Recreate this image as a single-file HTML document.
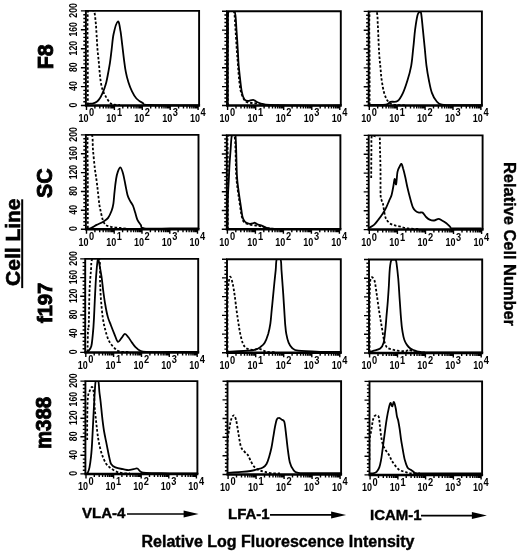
<!DOCTYPE html><html><head><meta charset="utf-8"><title>Flow cytometry histograms</title><style>html,body{margin:0;padding:0;background:#fff;width:520px;height:554px;overflow:hidden}svg{display:block;filter:grayscale(1)}</style></head><body>
<svg width="520" height="554" viewBox="0 0 520 554" style="font-family:'Liberation Sans',sans-serif;font-weight:bold">
<rect width="520" height="554" fill="#fff"/>
<clipPath id="c00"><rect x="85.9" y="10.9" width="113.2" height="95.6"/></clipPath>
<g clip-path="url(#c00)" fill="none" stroke="#000" stroke-linejoin="round" stroke-width="1.8">
<path d="M87.8 105.0 C87.8 97.5 87.8 75.6 87.8 60.0 C87.8 44.4 87.0 19.6 88.0 11.5 C89.0 3.4 92.6 9.7 93.9 11.5 C95.2 13.3 95.2 18.5 95.7 22.4 C96.2 26.3 96.3 30.5 96.6 35.0 C96.9 39.5 97.1 45.0 97.5 49.5 C97.9 54.0 98.4 58.0 98.8 62.2 C99.2 66.4 99.5 71.2 99.9 74.8 C100.3 78.4 100.6 81.1 101.1 83.8 C101.6 86.5 102.2 88.9 103.0 91.0 C103.8 93.1 104.7 94.6 105.7 96.4 C106.8 98.2 108.1 100.6 109.3 101.9 C110.5 103.2 111.1 104.0 112.9 104.5 C114.7 105.0 118.8 104.9 120.0 105.0" stroke-dasharray="2.5 1.9"/>
<path d="M86.5 104.0 C87.1 103.9 88.9 103.7 90.0 103.6 C91.1 103.5 92.0 103.6 93.2 103.3 C94.4 103.0 95.9 102.4 97.1 101.5 C98.3 100.6 99.3 99.1 100.2 97.7 C101.1 96.3 101.8 94.6 102.5 93.1 C103.2 91.6 103.8 90.3 104.4 88.5 C105.0 86.7 105.8 84.4 106.3 82.3 C106.8 80.2 107.0 79.2 107.6 76.0 C108.2 72.8 109.2 67.6 109.9 63.1 C110.6 58.6 111.1 53.8 111.7 48.9 C112.3 44.0 112.6 38.6 113.6 34.0 C114.6 29.4 116.8 22.0 117.9 21.5 C119.1 21.0 119.8 27.2 120.5 31.2 C121.2 35.2 121.7 40.7 122.3 45.4 C122.9 50.1 123.4 55.2 124.0 59.6 C124.6 64.0 125.0 68.1 125.8 71.9 C126.5 75.7 127.5 79.3 128.5 82.6 C129.5 85.8 130.7 88.8 132.0 91.4 C133.3 94.1 134.6 96.6 136.4 98.5 C138.2 100.4 140.3 101.8 142.6 102.9 C144.9 104.0 140.6 104.6 150.0 105.0 C159.4 105.4 190.7 105.4 198.8 105.5"/>
</g>
<path d="M85.9 105.5V10.9H199.1V105.5" fill="none" stroke="#000" stroke-width="1.9"/>
<path d="M84.9 105.5H200.1" stroke="#000" stroke-width="2.5"/>
<path d="M80.9 105.5H85.9 M83.3 101.7H85.9 M83.3 97.9H85.9 M83.3 94.1H85.9 M83.3 90.4H85.9 M80.9 86.6H85.9 M83.3 82.8H85.9 M83.3 79.0H85.9 M83.3 75.2H85.9 M83.3 71.4H85.9 M80.9 67.7H85.9 M83.3 63.9H85.9 M83.3 60.1H85.9 M83.3 56.3H85.9 M83.3 52.5H85.9 M80.9 48.7H85.9 M83.3 45.0H85.9 M83.3 41.2H85.9 M83.3 37.4H85.9 M83.3 33.6H85.9 M80.9 29.8H85.9 M83.3 26.0H85.9 M83.3 22.3H85.9 M83.3 18.5H85.9 M83.3 14.7H85.9 M80.9 10.9H85.9 M94.9 105.5V108.5 M99.8 105.5V108.5 M103.3 105.5V108.5 M106.0 105.5V108.5 M108.2 105.5V108.5 M110.1 105.5V108.5 M111.7 105.5V108.5 M113.1 105.5V108.5 M122.8 105.5V108.5 M127.7 105.5V108.5 M131.2 105.5V108.5 M133.9 105.5V108.5 M136.1 105.5V108.5 M138.0 105.5V108.5 M139.6 105.5V108.5 M141.0 105.5V108.5 M150.7 105.5V108.5 M155.6 105.5V108.5 M159.1 105.5V108.5 M161.8 105.5V108.5 M164.0 105.5V108.5 M165.9 105.5V108.5 M167.5 105.5V108.5 M168.9 105.5V108.5 M178.6 105.5V108.5 M183.5 105.5V108.5 M187.0 105.5V108.5 M189.7 105.5V108.5 M191.9 105.5V108.5 M193.8 105.5V108.5 M195.4 105.5V108.5 M196.8 105.5V108.5 M86.5 105.5V110.0 M114.4 105.5V110.0 M142.3 105.5V110.0 M170.2 105.5V110.0 M198.1 105.5V110.0" stroke="#000" stroke-width="1.4" fill="none"/>
<text transform="translate(88.5 121.8) scale(0.86 1)" font-size="10.5" text-anchor="end">10</text>
<text transform="translate(89.0 116.4) scale(0.9 1)" font-size="10.3">0</text>
<text transform="translate(116.4 121.8) scale(0.86 1)" font-size="10.5" text-anchor="end">10</text>
<text transform="translate(116.9 116.4) scale(0.9 1)" font-size="10.3">1</text>
<text transform="translate(144.3 121.8) scale(0.86 1)" font-size="10.5" text-anchor="end">10</text>
<text transform="translate(144.8 116.4) scale(0.9 1)" font-size="10.3">2</text>
<text transform="translate(172.2 121.8) scale(0.86 1)" font-size="10.5" text-anchor="end">10</text>
<text transform="translate(172.7 116.4) scale(0.9 1)" font-size="10.3">3</text>
<text transform="translate(200.1 121.8) scale(0.86 1)" font-size="10.5" text-anchor="end">10</text>
<text transform="translate(200.6 116.4) scale(0.9 1)" font-size="10.3">4</text>
<text transform="translate(77.4 105.0) rotate(-90) scale(0.87 1)" font-size="10" text-anchor="middle">0</text>
<text transform="translate(77.4 86.1) rotate(-90) scale(0.87 1)" font-size="10" text-anchor="middle">40</text>
<text transform="translate(77.4 67.2) rotate(-90) scale(0.87 1)" font-size="10" text-anchor="middle">80</text>
<text transform="translate(77.4 48.2) rotate(-90) scale(0.87 1)" font-size="10" text-anchor="middle">120</text>
<text transform="translate(77.4 29.3) rotate(-90) scale(0.87 1)" font-size="10" text-anchor="middle">160</text>
<text transform="translate(77.4 10.4) rotate(-90) scale(0.87 1)" font-size="10" text-anchor="middle">200</text>
<clipPath id="c01"><rect x="227.0" y="11.2" width="113.8" height="95.3"/></clipPath>
<g clip-path="url(#c01)" fill="none" stroke="#000" stroke-linejoin="round" stroke-width="1.8">
<path d="M227.8 105.0 C227.8 94.2 227.7 55.6 227.8 40.0 C227.9 24.4 227.5 16.2 228.5 11.5 C229.5 6.8 232.6 8.4 233.8 11.5 C235.0 14.6 235.0 23.6 235.5 30.0 C236.0 36.4 236.4 44.5 236.8 50.0 C237.2 55.5 237.5 58.5 237.8 63.0 C238.2 67.5 238.4 72.4 238.9 77.1 C239.4 81.8 239.8 87.3 240.8 91.3 C241.9 95.3 243.3 99.0 245.2 101.0 C247.1 103.0 249.7 102.6 252.0 103.0 C254.3 103.4 257.0 103.2 259.3 103.6 C261.6 104.0 262.6 105.2 266.0 105.5 C269.4 105.8 277.7 105.5 280.0 105.5" stroke-dasharray="2.5 1.9"/>
<path d="M227.8 105.5 C227.8 97.9 227.8 72.6 227.8 60.0 C227.8 47.4 227.9 38.1 228.0 30.0 C228.1 21.9 227.4 14.3 228.5 11.2 C229.6 8.1 233.3 8.1 234.6 11.2 C235.9 14.3 236.0 23.5 236.5 30.0 C237.0 36.5 237.5 44.5 237.8 50.0 C238.1 55.5 238.2 58.5 238.5 63.0 C238.8 67.5 239.4 72.4 239.9 77.1 C240.4 81.8 241.0 87.6 241.7 91.3 C242.4 95.0 243.3 97.6 244.3 99.2 C245.3 100.8 246.4 100.9 247.9 101.0 C249.4 101.1 251.7 99.6 253.2 99.8 C254.7 100.0 255.4 101.3 256.7 101.9 C258.0 102.5 258.9 103.1 261.1 103.6 C263.3 104.1 263.5 104.7 270.0 105.0 C276.5 105.3 288.2 105.4 300.0 105.5 C311.8 105.6 334.2 105.5 341.0 105.5"/>
</g>
<path d="M227.0 105.5V11.2H340.8V105.5" fill="none" stroke="#000" stroke-width="1.9"/>
<path d="M226.0 105.5H341.8" stroke="#000" stroke-width="2.5"/>
<path d="M222.0 105.5H227.0 M224.4 101.7H227.0 M224.4 98.0H227.0 M224.4 94.2H227.0 M224.4 90.4H227.0 M222.0 86.6H227.0 M224.4 82.9H227.0 M224.4 79.1H227.0 M224.4 75.3H227.0 M224.4 71.6H227.0 M222.0 67.8H227.0 M224.4 64.0H227.0 M224.4 60.2H227.0 M224.4 56.5H227.0 M224.4 52.7H227.0 M222.0 48.9H227.0 M224.4 45.1H227.0 M224.4 41.4H227.0 M224.4 37.6H227.0 M224.4 33.8H227.0 M222.0 30.1H227.0 M224.4 26.3H227.0 M224.4 22.5H227.0 M224.4 18.7H227.0 M224.4 15.0H227.0 M222.0 11.2H227.0 M236.0 105.5V108.5 M241.0 105.5V108.5 M244.5 105.5V108.5 M247.2 105.5V108.5 M249.4 105.5V108.5 M251.3 105.5V108.5 M252.9 105.5V108.5 M254.4 105.5V108.5 M264.1 105.5V108.5 M269.0 105.5V108.5 M272.5 105.5V108.5 M275.3 105.5V108.5 M277.5 105.5V108.5 M279.4 105.5V108.5 M281.0 105.5V108.5 M282.4 105.5V108.5 M292.1 105.5V108.5 M297.1 105.5V108.5 M300.6 105.5V108.5 M303.3 105.5V108.5 M305.5 105.5V108.5 M307.4 105.5V108.5 M309.0 105.5V108.5 M310.5 105.5V108.5 M320.2 105.5V108.5 M325.1 105.5V108.5 M328.6 105.5V108.5 M331.4 105.5V108.5 M333.6 105.5V108.5 M335.5 105.5V108.5 M337.1 105.5V108.5 M338.5 105.5V108.5 M227.6 105.5V110.0 M255.7 105.5V110.0 M283.7 105.5V110.0 M311.8 105.5V110.0 M339.8 105.5V110.0" stroke="#000" stroke-width="1.4" fill="none"/>
<text transform="translate(229.6 121.8) scale(0.86 1)" font-size="10.5" text-anchor="end">10</text>
<text transform="translate(230.1 116.4) scale(0.9 1)" font-size="10.3">0</text>
<text transform="translate(257.6 121.8) scale(0.86 1)" font-size="10.5" text-anchor="end">10</text>
<text transform="translate(258.1 116.4) scale(0.9 1)" font-size="10.3">1</text>
<text transform="translate(285.7 121.8) scale(0.86 1)" font-size="10.5" text-anchor="end">10</text>
<text transform="translate(286.2 116.4) scale(0.9 1)" font-size="10.3">2</text>
<text transform="translate(313.8 121.8) scale(0.86 1)" font-size="10.5" text-anchor="end">10</text>
<text transform="translate(314.2 116.4) scale(0.9 1)" font-size="10.3">3</text>
<text transform="translate(341.8 121.8) scale(0.86 1)" font-size="10.5" text-anchor="end">10</text>
<text transform="translate(342.3 116.4) scale(0.9 1)" font-size="10.3">4</text>
<clipPath id="c02"><rect x="368.7" y="11.4" width="113.2" height="95.1"/></clipPath>
<g clip-path="url(#c02)" fill="none" stroke="#000" stroke-linejoin="round" stroke-width="1.8">
<path d="M369.6 105.0 C369.6 97.5 369.6 75.6 369.6 60.0 C369.6 44.4 368.7 19.7 369.8 11.6 C370.9 3.5 375.2 9.4 376.5 11.6 C377.8 13.8 377.5 20.3 377.8 25.0 C378.1 29.7 378.3 35.2 378.5 40.0 C378.7 44.8 378.9 49.7 379.2 54.0 C379.5 58.3 379.9 62.2 380.3 66.0 C380.7 69.8 380.9 73.5 381.3 77.0 C381.7 80.5 382.3 84.3 382.8 87.0 C383.3 89.7 383.7 91.5 384.3 93.4 C384.9 95.3 385.6 97.2 386.2 98.5 C386.8 99.8 387.4 100.6 388.2 101.5 C389.0 102.4 389.7 103.2 391.0 103.8 C392.3 104.4 393.7 104.8 396.0 105.0 C398.3 105.2 403.5 105.2 405.0 105.3" stroke-dasharray="2.5 1.9"/>
<path d="M369.0 104.8 C371.8 104.8 382.3 105.1 385.9 104.6 C389.5 104.1 388.4 102.5 390.4 101.9 C392.3 101.3 395.5 102.5 397.6 101.0 C399.7 99.5 401.4 96.4 403.0 92.9 C404.6 89.5 406.1 84.8 407.5 80.3 C408.9 75.8 410.2 71.2 411.2 65.8 C412.2 60.4 412.6 53.7 413.3 47.7 C414.0 41.7 414.4 35.1 415.1 29.7 C415.8 24.3 416.8 18.1 417.5 15.2 C418.2 12.3 418.7 12.5 419.3 12.2 C419.9 11.9 420.5 10.3 421.1 13.2 C421.7 16.1 422.3 23.9 422.9 29.7 C423.5 35.5 424.1 41.7 424.7 47.7 C425.3 53.7 425.8 60.4 426.5 65.8 C427.2 71.2 428.0 75.8 428.9 80.3 C429.8 84.8 430.6 89.5 431.9 92.9 C433.1 96.4 434.7 99.0 436.4 101.0 C438.1 103.0 438.0 103.9 441.9 104.6 C445.8 105.3 453.4 105.1 460.0 105.2 C466.6 105.3 478.1 105.2 481.7 105.2"/>
</g>
<path d="M368.7 105.5V11.4H481.9V105.5" fill="none" stroke="#000" stroke-width="1.9"/>
<path d="M367.7 105.5H482.9" stroke="#000" stroke-width="2.5"/>
<path d="M363.7 105.5H368.7 M366.1 101.7H368.7 M366.1 98.0H368.7 M366.1 94.2H368.7 M366.1 90.4H368.7 M363.7 86.7H368.7 M366.1 82.9H368.7 M366.1 79.2H368.7 M366.1 75.4H368.7 M366.1 71.6H368.7 M363.7 67.9H368.7 M366.1 64.1H368.7 M366.1 60.3H368.7 M366.1 56.6H368.7 M366.1 52.8H368.7 M363.7 49.0H368.7 M366.1 45.3H368.7 M366.1 41.5H368.7 M366.1 37.7H368.7 M366.1 34.0H368.7 M363.7 30.2H368.7 M366.1 26.5H368.7 M366.1 22.7H368.7 M366.1 18.9H368.7 M366.1 15.2H368.7 M363.7 11.4H368.7 M377.7 105.5V108.5 M382.6 105.5V108.5 M386.1 105.5V108.5 M388.8 105.5V108.5 M391.0 105.5V108.5 M392.9 105.5V108.5 M394.5 105.5V108.5 M395.9 105.5V108.5 M405.6 105.5V108.5 M410.5 105.5V108.5 M414.0 105.5V108.5 M416.7 105.5V108.5 M418.9 105.5V108.5 M420.8 105.5V108.5 M422.4 105.5V108.5 M423.8 105.5V108.5 M433.5 105.5V108.5 M438.4 105.5V108.5 M441.9 105.5V108.5 M444.6 105.5V108.5 M446.8 105.5V108.5 M448.7 105.5V108.5 M450.3 105.5V108.5 M451.7 105.5V108.5 M461.4 105.5V108.5 M466.3 105.5V108.5 M469.8 105.5V108.5 M472.5 105.5V108.5 M474.7 105.5V108.5 M476.6 105.5V108.5 M478.2 105.5V108.5 M479.6 105.5V108.5 M369.3 105.5V110.0 M397.2 105.5V110.0 M425.1 105.5V110.0 M453.0 105.5V110.0 M480.9 105.5V110.0" stroke="#000" stroke-width="1.4" fill="none"/>
<text transform="translate(371.3 121.8) scale(0.86 1)" font-size="10.5" text-anchor="end">10</text>
<text transform="translate(371.8 116.4) scale(0.9 1)" font-size="10.3">0</text>
<text transform="translate(399.2 121.8) scale(0.86 1)" font-size="10.5" text-anchor="end">10</text>
<text transform="translate(399.7 116.4) scale(0.9 1)" font-size="10.3">1</text>
<text transform="translate(427.1 121.8) scale(0.86 1)" font-size="10.5" text-anchor="end">10</text>
<text transform="translate(427.6 116.4) scale(0.9 1)" font-size="10.3">2</text>
<text transform="translate(455.0 121.8) scale(0.86 1)" font-size="10.5" text-anchor="end">10</text>
<text transform="translate(455.5 116.4) scale(0.9 1)" font-size="10.3">3</text>
<text transform="translate(482.9 121.8) scale(0.86 1)" font-size="10.5" text-anchor="end">10</text>
<text transform="translate(483.4 116.4) scale(0.9 1)" font-size="10.3">4</text>
<clipPath id="c10"><rect x="85.9" y="134.9" width="112.6" height="95.3"/></clipPath>
<g clip-path="url(#c10)" fill="none" stroke="#000" stroke-linejoin="round" stroke-width="1.8">
<path d="M87.8 228.0 C87.8 220.0 87.8 195.4 87.8 180.0 C87.8 164.6 87.1 142.8 87.8 135.3 C88.5 127.9 91.2 132.9 92.1 135.3 C93.0 137.8 92.5 144.5 93.0 150.0 C93.5 155.5 94.2 163.0 94.8 168.1 C95.4 173.2 96.1 176.8 96.6 180.7 C97.1 184.6 97.5 187.7 97.9 191.6 C98.4 195.5 98.8 200.6 99.3 204.2 C99.8 207.8 100.5 210.5 101.1 213.2 C101.7 215.9 102.2 218.4 103.0 220.4 C103.8 222.4 104.4 223.9 105.7 225.0 C107.0 226.1 108.7 226.3 111.1 226.8 C113.5 227.3 117.3 227.6 120.1 227.9 C122.9 228.2 126.7 228.7 128.0 228.8" stroke-dasharray="2.5 1.9"/>
<path d="M86.5 228.5 C87.2 228.5 88.7 228.9 90.4 228.3 C92.1 227.7 94.4 226.1 96.6 224.9 C98.8 223.8 101.8 222.6 103.7 221.4 C105.6 220.2 106.8 219.7 108.1 217.9 C109.4 216.1 110.7 213.2 111.6 210.8 C112.5 208.4 112.9 206.9 113.4 203.7 C113.9 200.4 114.1 195.4 114.6 191.3 C115.0 187.2 115.6 182.2 116.1 179.0 C116.6 175.8 117.1 173.8 117.8 171.9 C118.5 170.0 119.6 167.2 120.5 167.5 C121.4 167.8 122.3 170.9 123.1 173.7 C123.9 176.5 124.6 180.8 125.3 184.3 C126.0 187.8 126.7 192.1 127.5 194.9 C128.3 197.7 129.3 199.3 130.2 201.1 C131.1 202.9 132.1 203.6 132.9 205.5 C133.7 207.4 134.5 210.2 135.2 212.6 C135.9 214.9 136.4 217.5 137.3 219.6 C138.2 221.7 139.6 223.4 140.8 224.9 C142.0 226.4 139.4 227.7 144.3 228.3 C149.2 228.9 160.9 228.5 170.0 228.5 C179.1 228.5 194.0 228.5 198.8 228.5"/>
</g>
<path d="M85.9 229.2V134.9H198.5V229.2" fill="none" stroke="#000" stroke-width="1.9"/>
<path d="M84.9 229.2H199.5" stroke="#000" stroke-width="2.5"/>
<path d="M80.9 229.2H85.9 M83.3 225.4H85.9 M83.3 221.7H85.9 M83.3 217.9H85.9 M83.3 214.1H85.9 M80.9 210.3H85.9 M83.3 206.6H85.9 M83.3 202.8H85.9 M83.3 199.0H85.9 M83.3 195.3H85.9 M80.9 191.5H85.9 M83.3 187.7H85.9 M83.3 183.9H85.9 M83.3 180.2H85.9 M83.3 176.4H85.9 M80.9 172.6H85.9 M83.3 168.8H85.9 M83.3 165.1H85.9 M83.3 161.3H85.9 M83.3 157.5H85.9 M80.9 153.8H85.9 M83.3 150.0H85.9 M83.3 146.2H85.9 M83.3 142.4H85.9 M83.3 138.7H85.9 M80.9 134.9H85.9 M94.9 229.2V232.2 M99.7 229.2V232.2 M103.2 229.2V232.2 M105.9 229.2V232.2 M108.1 229.2V232.2 M110.0 229.2V232.2 M111.6 229.2V232.2 M113.0 229.2V232.2 M122.6 229.2V232.2 M127.5 229.2V232.2 M131.0 229.2V232.2 M133.6 229.2V232.2 M135.8 229.2V232.2 M137.7 229.2V232.2 M139.3 229.2V232.2 M140.7 229.2V232.2 M150.4 229.2V232.2 M155.2 229.2V232.2 M158.7 229.2V232.2 M161.4 229.2V232.2 M163.6 229.2V232.2 M165.5 229.2V232.2 M167.1 229.2V232.2 M168.5 229.2V232.2 M178.1 229.2V232.2 M183.0 229.2V232.2 M186.5 229.2V232.2 M189.1 229.2V232.2 M191.3 229.2V232.2 M193.2 229.2V232.2 M194.8 229.2V232.2 M196.2 229.2V232.2 M86.5 229.2V233.7 M114.2 229.2V233.7 M142.0 229.2V233.7 M169.8 229.2V233.7 M197.5 229.2V233.7" stroke="#000" stroke-width="1.4" fill="none"/>
<text transform="translate(88.5 245.5) scale(0.86 1)" font-size="10.5" text-anchor="end">10</text>
<text transform="translate(89.0 240.1) scale(0.9 1)" font-size="10.3">0</text>
<text transform="translate(116.2 245.5) scale(0.86 1)" font-size="10.5" text-anchor="end">10</text>
<text transform="translate(116.8 240.1) scale(0.9 1)" font-size="10.3">1</text>
<text transform="translate(144.0 245.5) scale(0.86 1)" font-size="10.5" text-anchor="end">10</text>
<text transform="translate(144.5 240.1) scale(0.9 1)" font-size="10.3">2</text>
<text transform="translate(171.8 245.5) scale(0.86 1)" font-size="10.5" text-anchor="end">10</text>
<text transform="translate(172.2 240.1) scale(0.9 1)" font-size="10.3">3</text>
<text transform="translate(199.5 245.5) scale(0.86 1)" font-size="10.5" text-anchor="end">10</text>
<text transform="translate(200.0 240.1) scale(0.9 1)" font-size="10.3">4</text>
<text transform="translate(77.4 228.7) rotate(-90) scale(0.87 1)" font-size="10" text-anchor="middle">0</text>
<text transform="translate(77.4 209.8) rotate(-90) scale(0.87 1)" font-size="10" text-anchor="middle">40</text>
<text transform="translate(77.4 191.0) rotate(-90) scale(0.87 1)" font-size="10" text-anchor="middle">80</text>
<text transform="translate(77.4 172.1) rotate(-90) scale(0.87 1)" font-size="10" text-anchor="middle">120</text>
<text transform="translate(77.4 153.3) rotate(-90) scale(0.87 1)" font-size="10" text-anchor="middle">160</text>
<text transform="translate(77.4 134.4) rotate(-90) scale(0.87 1)" font-size="10" text-anchor="middle">200</text>
<clipPath id="c11"><rect x="226.8" y="135.2" width="113.6" height="95.1"/></clipPath>
<g clip-path="url(#c11)" fill="none" stroke="#000" stroke-linejoin="round" stroke-width="1.8">
<path d="M227.8 229.0 C227.8 217.5 227.8 175.5 227.8 160.0 C227.8 144.5 226.9 140.1 228.0 136.0 C229.1 131.9 233.1 129.0 234.5 135.5 C235.9 142.0 235.6 165.8 236.2 175.0 C236.8 184.2 237.3 186.1 237.8 190.4 C238.3 194.7 238.8 197.3 239.3 200.7 C239.8 204.1 240.4 208.2 240.8 211.0 C241.2 213.8 241.5 215.4 242.0 217.2 C242.5 219.0 242.8 220.8 244.0 222.0 C245.2 223.2 247.0 223.9 249.0 224.5 C251.0 225.1 253.8 225.2 256.0 225.5 C258.2 225.8 259.7 226.0 262.0 226.5 C264.3 227.0 267.0 228.1 270.0 228.5 C273.0 228.9 278.3 228.9 280.0 229.0" stroke-dasharray="2.5 1.9"/>
<path d="M227.6 229.0 C227.6 224.2 227.6 208.2 227.8 200.0 C228.0 191.8 228.5 185.8 228.8 180.0 C229.1 174.2 229.2 170.0 229.5 165.0 C229.8 160.0 230.2 154.9 230.6 150.0 C231.0 145.1 231.1 137.9 231.9 135.5 C232.7 133.1 234.7 128.9 235.5 135.5 C236.3 142.1 236.4 165.8 236.9 175.0 C237.4 184.2 238.0 186.1 238.5 190.4 C239.0 194.7 239.5 197.3 240.0 200.7 C240.5 204.1 241.1 208.2 241.5 211.0 C241.9 213.8 242.1 215.5 242.6 217.2 C243.1 218.9 243.9 220.4 244.6 221.3 C245.3 222.2 245.8 222.4 246.7 222.8 C247.6 223.2 248.8 223.8 249.8 223.9 C250.8 224.0 252.1 223.6 252.9 223.4 C253.8 223.2 254.1 222.6 254.9 222.8 C255.7 223.0 256.5 224.0 257.5 224.4 C258.5 224.8 259.7 224.9 261.1 225.4 C262.5 225.9 263.7 226.9 266.0 227.5 C268.3 228.1 262.5 228.6 275.0 228.8 C287.5 229.1 330.0 229.0 341.0 229.0"/>
</g>
<path d="M226.8 229.3V135.2H340.4V229.3" fill="none" stroke="#000" stroke-width="1.9"/>
<path d="M225.8 229.3H341.4" stroke="#000" stroke-width="2.5"/>
<path d="M221.8 229.3H226.8 M224.2 225.5H226.8 M224.2 221.8H226.8 M224.2 218.0H226.8 M224.2 214.2H226.8 M221.8 210.5H226.8 M224.2 206.7H226.8 M224.2 203.0H226.8 M224.2 199.2H226.8 M224.2 195.4H226.8 M221.8 191.7H226.8 M224.2 187.9H226.8 M224.2 184.1H226.8 M224.2 180.4H226.8 M224.2 176.6H226.8 M221.8 172.8H226.8 M224.2 169.1H226.8 M224.2 165.3H226.8 M224.2 161.5H226.8 M224.2 157.8H226.8 M221.8 154.0H226.8 M224.2 150.3H226.8 M224.2 146.5H226.8 M224.2 142.7H226.8 M224.2 139.0H226.8 M221.8 135.2H226.8 M235.8 229.3V232.3 M240.8 229.3V232.3 M244.3 229.3V232.3 M247.0 229.3V232.3 M249.2 229.3V232.3 M251.1 229.3V232.3 M252.7 229.3V232.3 M254.1 229.3V232.3 M263.8 229.3V232.3 M268.8 229.3V232.3 M272.3 229.3V232.3 M275.0 229.3V232.3 M277.2 229.3V232.3 M279.1 229.3V232.3 M280.7 229.3V232.3 M282.1 229.3V232.3 M291.8 229.3V232.3 M296.8 229.3V232.3 M300.3 229.3V232.3 M303.0 229.3V232.3 M305.2 229.3V232.3 M307.1 229.3V232.3 M308.7 229.3V232.3 M310.1 229.3V232.3 M319.8 229.3V232.3 M324.8 229.3V232.3 M328.3 229.3V232.3 M331.0 229.3V232.3 M333.2 229.3V232.3 M335.1 229.3V232.3 M336.7 229.3V232.3 M338.1 229.3V232.3 M227.4 229.3V233.8 M255.4 229.3V233.8 M283.4 229.3V233.8 M311.4 229.3V233.8 M339.4 229.3V233.8" stroke="#000" stroke-width="1.4" fill="none"/>
<text transform="translate(229.4 245.6) scale(0.86 1)" font-size="10.5" text-anchor="end">10</text>
<text transform="translate(229.9 240.2) scale(0.9 1)" font-size="10.3">0</text>
<text transform="translate(257.4 245.6) scale(0.86 1)" font-size="10.5" text-anchor="end">10</text>
<text transform="translate(257.9 240.2) scale(0.9 1)" font-size="10.3">1</text>
<text transform="translate(285.4 245.6) scale(0.86 1)" font-size="10.5" text-anchor="end">10</text>
<text transform="translate(285.9 240.2) scale(0.9 1)" font-size="10.3">2</text>
<text transform="translate(313.4 245.6) scale(0.86 1)" font-size="10.5" text-anchor="end">10</text>
<text transform="translate(313.9 240.2) scale(0.9 1)" font-size="10.3">3</text>
<text transform="translate(341.4 245.6) scale(0.86 1)" font-size="10.5" text-anchor="end">10</text>
<text transform="translate(341.9 240.2) scale(0.9 1)" font-size="10.3">4</text>
<clipPath id="c12"><rect x="368.7" y="135.4" width="113.9" height="95.2"/></clipPath>
<g clip-path="url(#c12)" fill="none" stroke="#000" stroke-linejoin="round" stroke-width="1.8">
<path d="M371.2 178.0 C371.2 173.3 371.3 157.0 371.4 150.0 C371.5 143.0 371.1 138.3 371.8 136.0 C372.5 133.7 374.1 136.3 375.4 136.3 C376.7 136.3 378.6 133.7 379.4 136.0 C380.2 138.3 379.8 144.3 380.0 150.0 C380.2 155.7 380.4 162.5 380.5 170.0 C380.6 177.5 380.4 190.0 380.6 195.0 C380.8 200.0 381.1 198.6 381.5 200.0 C381.9 201.4 382.5 202.0 382.9 203.5 C383.3 205.0 383.4 206.7 383.8 209.0 C384.2 211.3 384.7 215.3 385.5 217.5 C386.3 219.7 387.4 221.1 388.7 222.3 C390.0 223.6 391.4 224.3 393.3 225.0 C395.2 225.7 397.6 225.9 400.0 226.5 C402.4 227.1 404.7 228.1 408.0 228.5 C411.3 228.9 418.0 228.9 420.0 229.0" stroke-dasharray="2.5 1.9"/>
<path d="M369.0 228.3 C369.1 228.2 368.7 228.2 369.5 227.6 C370.3 227.0 372.5 226.2 374.0 224.9 C375.5 223.6 376.9 221.5 378.4 219.6 C379.9 217.7 381.5 215.4 382.8 213.4 C384.1 211.4 385.3 209.4 386.3 207.3 C387.3 205.2 388.1 203.2 389.0 201.1 C389.9 199.0 390.9 197.4 391.6 194.9 C392.3 192.4 392.9 188.7 393.4 186.0 C393.9 183.3 394.2 179.3 394.6 179.0 C395.1 178.7 395.6 185.5 396.1 184.3 C396.6 183.1 396.9 174.9 397.5 171.9 C398.1 168.9 399.0 167.9 399.6 166.6 C400.2 165.3 400.8 163.6 401.4 163.9 C402.0 164.2 402.5 166.2 403.1 168.4 C403.8 170.6 404.6 174.0 405.3 177.2 C406.0 180.4 406.7 184.3 407.5 187.8 C408.3 191.3 409.3 195.2 410.2 198.4 C411.1 201.7 412.0 205.2 412.9 207.3 C413.8 209.4 414.5 209.9 415.5 210.8 C416.5 211.7 417.8 212.3 419.0 212.6 C420.2 212.9 421.4 211.9 422.6 212.6 C423.8 213.3 424.9 215.8 426.1 217.0 C427.3 218.2 428.3 219.0 429.6 219.6 C430.9 220.2 432.6 220.6 434.1 220.5 C435.6 220.4 437.2 218.8 438.5 218.8 C439.8 218.8 440.7 219.8 442.0 220.5 C443.3 221.2 445.1 222.2 446.4 223.2 C447.7 224.2 449.0 225.8 450.0 226.7 C451.0 227.5 449.3 228.0 452.6 228.3 C455.9 228.6 465.1 228.5 470.0 228.5 C474.9 228.5 479.8 228.5 481.7 228.5"/>
</g>
<path d="M368.7 229.6V135.4H482.6V229.6" fill="none" stroke="#000" stroke-width="1.9"/>
<path d="M367.7 229.6H483.6" stroke="#000" stroke-width="2.5"/>
<path d="M363.7 229.6H368.7 M366.1 225.8H368.7 M366.1 222.1H368.7 M366.1 218.3H368.7 M366.1 214.5H368.7 M363.7 210.8H368.7 M366.1 207.0H368.7 M366.1 203.2H368.7 M366.1 199.5H368.7 M366.1 195.7H368.7 M363.7 191.9H368.7 M366.1 188.2H368.7 M366.1 184.4H368.7 M366.1 180.6H368.7 M366.1 176.8H368.7 M363.7 173.1H368.7 M366.1 169.3H368.7 M366.1 165.5H368.7 M366.1 161.8H368.7 M366.1 158.0H368.7 M363.7 154.2H368.7 M366.1 150.5H368.7 M366.1 146.7H368.7 M366.1 142.9H368.7 M366.1 139.2H368.7 M363.7 135.4H368.7 M377.8 229.6V232.6 M382.7 229.6V232.6 M386.2 229.6V232.6 M388.9 229.6V232.6 M391.1 229.6V232.6 M393.0 229.6V232.6 M394.7 229.6V232.6 M396.1 229.6V232.6 M405.8 229.6V232.6 M410.8 229.6V232.6 M414.3 229.6V232.6 M417.0 229.6V232.6 M419.2 229.6V232.6 M421.1 229.6V232.6 M422.7 229.6V232.6 M424.2 229.6V232.6 M433.9 229.6V232.6 M438.8 229.6V232.6 M442.4 229.6V232.6 M445.1 229.6V232.6 M447.3 229.6V232.6 M449.2 229.6V232.6 M450.8 229.6V232.6 M452.2 229.6V232.6 M462.0 229.6V232.6 M466.9 229.6V232.6 M470.4 229.6V232.6 M473.1 229.6V232.6 M475.4 229.6V232.6 M477.3 229.6V232.6 M478.9 229.6V232.6 M480.3 229.6V232.6 M369.3 229.6V234.1 M397.4 229.6V234.1 M425.5 229.6V234.1 M453.5 229.6V234.1 M481.6 229.6V234.1" stroke="#000" stroke-width="1.4" fill="none"/>
<text transform="translate(371.3 245.9) scale(0.86 1)" font-size="10.5" text-anchor="end">10</text>
<text transform="translate(371.8 240.5) scale(0.9 1)" font-size="10.3">0</text>
<text transform="translate(399.4 245.9) scale(0.86 1)" font-size="10.5" text-anchor="end">10</text>
<text transform="translate(399.9 240.5) scale(0.9 1)" font-size="10.3">1</text>
<text transform="translate(427.5 245.9) scale(0.86 1)" font-size="10.5" text-anchor="end">10</text>
<text transform="translate(428.0 240.5) scale(0.9 1)" font-size="10.3">2</text>
<text transform="translate(455.5 245.9) scale(0.86 1)" font-size="10.5" text-anchor="end">10</text>
<text transform="translate(456.0 240.5) scale(0.9 1)" font-size="10.3">3</text>
<text transform="translate(483.6 245.9) scale(0.86 1)" font-size="10.5" text-anchor="end">10</text>
<text transform="translate(484.1 240.5) scale(0.9 1)" font-size="10.3">4</text>
<clipPath id="c20"><rect x="85.2" y="258.9" width="113.0" height="94.5"/></clipPath>
<g clip-path="url(#c20)" fill="none" stroke="#000" stroke-linejoin="round" stroke-width="1.8">
<path d="M87.5 352.0 C87.6 348.3 87.8 334.2 88.0 330.0 C88.2 325.8 88.5 333.1 88.7 326.7 C89.0 320.3 89.1 300.8 89.5 291.4 C89.9 281.9 90.5 275.3 91.0 270.0 C91.5 264.7 90.8 261.2 92.2 259.5 C93.6 257.8 98.0 255.7 99.3 259.5 C100.6 263.3 99.8 275.7 100.1 282.5 C100.4 289.3 100.5 294.3 101.0 300.2 C101.5 306.1 102.1 312.9 102.8 317.9 C103.5 322.9 104.4 326.5 105.4 330.3 C106.4 334.1 107.5 338.0 109.0 340.9 C110.5 343.8 112.5 346.1 114.3 347.9 C116.1 349.7 117.0 350.8 119.6 351.5 C122.2 352.2 128.3 351.9 130.0 352.0" stroke-dasharray="2.5 1.9"/>
<path d="M86.5 352.0 C86.9 351.8 87.9 351.6 88.7 350.6 C89.5 349.6 90.6 348.7 91.3 346.2 C92.0 343.7 92.2 340.3 92.7 335.6 C93.2 330.9 93.7 323.8 94.0 317.9 C94.3 312.0 94.5 306.1 94.8 300.2 C95.1 294.3 95.4 287.5 95.7 282.5 C96.0 277.5 96.3 273.6 96.6 270.1 C96.9 266.6 97.2 263.1 97.5 261.3 C97.8 259.5 98.0 258.6 98.4 259.5 C98.8 260.4 99.3 263.7 99.8 266.6 C100.3 269.6 101.0 273.1 101.6 277.2 C102.2 281.3 102.7 287.0 103.3 291.4 C103.9 295.8 104.4 299.6 105.1 303.7 C105.8 307.8 106.6 312.6 107.6 316.1 C108.5 319.7 109.7 322.1 110.8 325.0 C111.9 327.9 113.1 331.0 114.3 333.8 C115.5 336.6 116.6 341.0 117.8 341.7 C119.0 342.4 120.2 339.5 121.4 338.2 C122.6 336.9 123.7 333.9 124.9 333.8 C126.1 333.7 127.2 335.8 128.4 337.3 C129.6 338.8 130.8 341.0 132.0 342.6 C133.2 344.2 134.2 345.8 135.5 347.1 C136.8 348.4 138.1 349.8 139.9 350.6 C141.7 351.4 141.1 351.8 146.1 352.0 C151.1 352.2 161.2 352.0 170.0 352.0 C178.8 352.0 194.0 352.0 198.8 352.0"/>
</g>
<path d="M85.2 352.4V258.9H198.2V352.4" fill="none" stroke="#000" stroke-width="1.9"/>
<path d="M84.2 352.4H199.2" stroke="#000" stroke-width="2.5"/>
<path d="M80.2 352.4H85.2 M82.6 348.7H85.2 M82.6 344.9H85.2 M82.6 341.2H85.2 M82.6 337.4H85.2 M80.2 333.7H85.2 M82.6 330.0H85.2 M82.6 326.2H85.2 M82.6 322.5H85.2 M82.6 318.7H85.2 M80.2 315.0H85.2 M82.6 311.3H85.2 M82.6 307.5H85.2 M82.6 303.8H85.2 M82.6 300.0H85.2 M80.2 296.3H85.2 M82.6 292.6H85.2 M82.6 288.8H85.2 M82.6 285.1H85.2 M82.6 281.3H85.2 M80.2 277.6H85.2 M82.6 273.9H85.2 M82.6 270.1H85.2 M82.6 266.4H85.2 M82.6 262.6H85.2 M80.2 258.9H85.2 M94.2 352.4V355.4 M99.1 352.4V355.4 M102.6 352.4V355.4 M105.3 352.4V355.4 M107.5 352.4V355.4 M109.3 352.4V355.4 M111.0 352.4V355.4 M112.4 352.4V355.4 M122.0 352.4V355.4 M126.9 352.4V355.4 M130.4 352.4V355.4 M133.1 352.4V355.4 M135.3 352.4V355.4 M137.2 352.4V355.4 M138.8 352.4V355.4 M140.2 352.4V355.4 M149.9 352.4V355.4 M154.8 352.4V355.4 M158.3 352.4V355.4 M161.0 352.4V355.4 M163.2 352.4V355.4 M165.0 352.4V355.4 M166.7 352.4V355.4 M168.1 352.4V355.4 M177.7 352.4V355.4 M182.6 352.4V355.4 M186.1 352.4V355.4 M188.8 352.4V355.4 M191.0 352.4V355.4 M192.9 352.4V355.4 M194.5 352.4V355.4 M195.9 352.4V355.4 M85.8 352.4V356.9 M113.6 352.4V356.9 M141.5 352.4V356.9 M169.3 352.4V356.9 M197.2 352.4V356.9" stroke="#000" stroke-width="1.4" fill="none"/>
<text transform="translate(87.8 368.7) scale(0.86 1)" font-size="10.5" text-anchor="end">10</text>
<text transform="translate(88.3 363.3) scale(0.9 1)" font-size="10.3">0</text>
<text transform="translate(115.6 368.7) scale(0.86 1)" font-size="10.5" text-anchor="end">10</text>
<text transform="translate(116.1 363.3) scale(0.9 1)" font-size="10.3">1</text>
<text transform="translate(143.5 368.7) scale(0.86 1)" font-size="10.5" text-anchor="end">10</text>
<text transform="translate(144.0 363.3) scale(0.9 1)" font-size="10.3">2</text>
<text transform="translate(171.3 368.7) scale(0.86 1)" font-size="10.5" text-anchor="end">10</text>
<text transform="translate(171.8 363.3) scale(0.9 1)" font-size="10.3">3</text>
<text transform="translate(199.2 368.7) scale(0.86 1)" font-size="10.5" text-anchor="end">10</text>
<text transform="translate(199.7 363.3) scale(0.9 1)" font-size="10.3">4</text>
<text transform="translate(77.4 351.9) rotate(-90) scale(0.87 1)" font-size="10" text-anchor="middle">0</text>
<text transform="translate(77.4 333.2) rotate(-90) scale(0.87 1)" font-size="10" text-anchor="middle">40</text>
<text transform="translate(77.4 314.5) rotate(-90) scale(0.87 1)" font-size="10" text-anchor="middle">80</text>
<text transform="translate(77.4 295.8) rotate(-90) scale(0.87 1)" font-size="10" text-anchor="middle">120</text>
<text transform="translate(77.4 277.1) rotate(-90) scale(0.87 1)" font-size="10" text-anchor="middle">160</text>
<text transform="translate(77.4 258.4) rotate(-90) scale(0.87 1)" font-size="10" text-anchor="middle">200</text>
<clipPath id="c21"><rect x="227.0" y="259.2" width="113.8" height="94.6"/></clipPath>
<g clip-path="url(#c21)" fill="none" stroke="#000" stroke-linejoin="round" stroke-width="1.8">
<path d="M227.5 352.0 C227.5 345.0 227.4 320.1 227.5 310.0 C227.6 299.9 227.5 296.6 227.8 291.4 C228.1 286.2 228.8 281.4 229.3 279.0 C229.8 276.6 230.1 276.3 230.7 277.2 C231.3 278.1 232.2 281.4 232.8 284.3 C233.5 287.2 234.0 290.8 234.6 294.9 C235.2 299.0 235.8 304.7 236.4 309.1 C237.0 313.5 237.6 317.7 238.2 321.5 C238.8 325.3 239.2 328.6 239.9 332.1 C240.6 335.6 241.6 340.1 242.6 342.7 C243.6 345.3 244.5 346.8 246.1 348.0 C247.7 349.2 250.1 349.7 252.3 349.8 C254.5 349.9 257.0 348.6 259.4 348.9 C261.8 349.2 263.9 351.3 266.5 351.8 C269.1 352.3 273.6 352.0 275.0 352.0" stroke-dasharray="2.5 1.9"/>
<path d="M227.0 351.8 C230.6 351.6 244.1 351.0 248.8 350.7 C253.5 350.4 253.1 350.4 255.0 349.8 C256.9 349.2 258.7 348.3 260.3 347.1 C261.9 345.9 263.4 344.9 264.7 342.7 C266.0 340.5 267.2 337.1 268.2 333.9 C269.1 330.7 269.8 327.4 270.4 323.3 C271.0 319.2 271.3 313.8 271.8 309.1 C272.3 304.4 272.8 299.3 273.2 294.9 C273.6 290.5 274.0 286.6 274.4 282.5 C274.8 278.4 275.3 274.0 275.7 270.2 C276.1 266.4 275.9 261.3 276.7 259.5 C277.5 257.7 279.8 257.7 280.6 259.5 C281.4 261.3 281.2 266.4 281.5 270.2 C281.8 274.0 282.1 278.4 282.4 282.5 C282.7 286.6 283.0 290.5 283.3 294.9 C283.6 299.3 283.9 304.4 284.2 309.1 C284.5 313.8 284.8 319.2 285.1 323.3 C285.5 327.4 285.7 330.7 286.3 333.9 C286.9 337.1 287.6 340.3 288.6 342.7 C289.6 345.1 290.5 346.7 292.1 348.0 C293.7 349.3 293.7 350.1 298.3 350.7 C302.9 351.3 312.9 351.6 320.0 351.8 C327.1 352.0 337.5 352.0 341.0 352.0"/>
</g>
<path d="M227.0 352.8V259.2H340.8V352.8" fill="none" stroke="#000" stroke-width="1.9"/>
<path d="M226.0 352.8H341.8" stroke="#000" stroke-width="2.5"/>
<path d="M222.0 352.8H227.0 M224.4 349.1H227.0 M224.4 345.3H227.0 M224.4 341.6H227.0 M224.4 337.8H227.0 M222.0 334.1H227.0 M224.4 330.3H227.0 M224.4 326.6H227.0 M224.4 322.8H227.0 M224.4 319.1H227.0 M222.0 315.4H227.0 M224.4 311.6H227.0 M224.4 307.9H227.0 M224.4 304.1H227.0 M224.4 300.4H227.0 M222.0 296.6H227.0 M224.4 292.9H227.0 M224.4 289.2H227.0 M224.4 285.4H227.0 M224.4 281.7H227.0 M222.0 277.9H227.0 M224.4 274.2H227.0 M224.4 270.4H227.0 M224.4 266.7H227.0 M224.4 262.9H227.0 M222.0 259.2H227.0 M236.0 352.8V355.8 M241.0 352.8V355.8 M244.5 352.8V355.8 M247.2 352.8V355.8 M249.4 352.8V355.8 M251.3 352.8V355.8 M252.9 352.8V355.8 M254.4 352.8V355.8 M264.1 352.8V355.8 M269.0 352.8V355.8 M272.5 352.8V355.8 M275.3 352.8V355.8 M277.5 352.8V355.8 M279.4 352.8V355.8 M281.0 352.8V355.8 M282.4 352.8V355.8 M292.1 352.8V355.8 M297.1 352.8V355.8 M300.6 352.8V355.8 M303.3 352.8V355.8 M305.5 352.8V355.8 M307.4 352.8V355.8 M309.0 352.8V355.8 M310.5 352.8V355.8 M320.2 352.8V355.8 M325.1 352.8V355.8 M328.6 352.8V355.8 M331.4 352.8V355.8 M333.6 352.8V355.8 M335.5 352.8V355.8 M337.1 352.8V355.8 M338.5 352.8V355.8 M227.6 352.8V357.3 M255.7 352.8V357.3 M283.7 352.8V357.3 M311.8 352.8V357.3 M339.8 352.8V357.3" stroke="#000" stroke-width="1.4" fill="none"/>
<text transform="translate(229.6 369.1) scale(0.86 1)" font-size="10.5" text-anchor="end">10</text>
<text transform="translate(230.1 363.7) scale(0.9 1)" font-size="10.3">0</text>
<text transform="translate(257.6 369.1) scale(0.86 1)" font-size="10.5" text-anchor="end">10</text>
<text transform="translate(258.1 363.7) scale(0.9 1)" font-size="10.3">1</text>
<text transform="translate(285.7 369.1) scale(0.86 1)" font-size="10.5" text-anchor="end">10</text>
<text transform="translate(286.2 363.7) scale(0.9 1)" font-size="10.3">2</text>
<text transform="translate(313.8 369.1) scale(0.86 1)" font-size="10.5" text-anchor="end">10</text>
<text transform="translate(314.2 363.7) scale(0.9 1)" font-size="10.3">3</text>
<text transform="translate(341.8 369.1) scale(0.86 1)" font-size="10.5" text-anchor="end">10</text>
<text transform="translate(342.3 363.7) scale(0.9 1)" font-size="10.3">4</text>
<clipPath id="c22"><rect x="369.0" y="259.5" width="113.2" height="94.5"/></clipPath>
<g clip-path="url(#c22)" fill="none" stroke="#000" stroke-linejoin="round" stroke-width="1.8">
<path d="M369.6 352.0 C369.6 346.7 369.6 330.3 369.6 320.0 C369.6 309.7 369.6 297.0 369.8 290.0 C370.0 283.0 370.1 279.6 370.9 278.0 C371.7 276.4 373.4 277.7 374.4 280.4 C375.4 283.1 375.9 289.2 376.7 294.2 C377.5 299.2 378.2 305.4 379.0 310.4 C379.8 315.4 380.5 319.6 381.3 324.2 C382.1 328.8 383.0 334.8 383.6 338.1 C384.2 341.4 384.6 342.4 385.2 344.0 C385.8 345.6 386.0 346.6 387.0 347.5 C388.0 348.4 389.7 348.8 391.0 349.2 C392.3 349.6 393.4 349.9 394.7 350.2 C396.0 350.5 397.5 350.6 399.0 350.8 C400.5 351.0 402.3 351.1 403.5 351.2 C404.7 351.3 405.2 351.5 406.0 351.3 C406.8 351.1 407.7 349.9 408.5 349.8 C409.3 349.7 409.9 350.1 411.0 350.5 C412.1 350.9 412.7 351.9 415.0 352.2 C417.3 352.5 423.3 352.4 425.0 352.5" stroke-dasharray="2.5 1.9"/>
<path d="M369.0 352.2 C369.7 352.0 371.3 351.4 373.2 350.8 C375.1 350.2 378.5 349.9 380.2 348.5 C381.9 347.1 382.8 345.6 383.6 342.7 C384.4 339.8 384.7 335.4 385.2 331.2 C385.7 327.0 386.0 322.3 386.4 317.3 C386.8 312.3 387.4 306.6 387.8 301.2 C388.2 295.8 388.6 290.4 388.9 285.0 C389.2 279.6 389.4 272.9 389.8 268.8 C390.2 264.7 390.6 262.0 391.2 260.5 C391.8 259.0 392.8 259.7 393.5 259.6 C394.2 259.5 395.0 259.4 395.5 260.0 C396.0 260.6 396.1 260.0 396.5 263.0 C396.9 266.0 397.6 271.6 398.2 278.0 C398.8 284.4 399.3 294.5 399.8 301.2 C400.3 307.9 400.6 313.6 401.0 318.0 C401.4 322.4 401.5 324.6 401.9 327.7 C402.3 330.8 403.0 334.6 403.5 336.9 C404.0 339.2 404.4 340.1 405.0 341.5 C405.6 342.9 406.4 344.2 407.3 345.4 C408.2 346.6 409.4 347.7 410.4 348.5 C411.4 349.3 412.5 349.6 413.5 350.0 C414.5 350.4 415.4 350.9 416.5 351.2 C417.6 351.5 418.1 351.7 420.4 351.9 C422.6 352.1 419.7 352.2 430.0 352.3 C440.3 352.4 473.3 352.3 482.0 352.3"/>
</g>
<path d="M369.0 353.0V259.5H482.2V353.0" fill="none" stroke="#000" stroke-width="1.9"/>
<path d="M368.0 353.0H483.2" stroke="#000" stroke-width="2.5"/>
<path d="M364.0 353.0H369.0 M366.4 349.3H369.0 M366.4 345.5H369.0 M366.4 341.8H369.0 M366.4 338.0H369.0 M364.0 334.3H369.0 M366.4 330.6H369.0 M366.4 326.8H369.0 M366.4 323.1H369.0 M366.4 319.3H369.0 M364.0 315.6H369.0 M366.4 311.9H369.0 M366.4 308.1H369.0 M366.4 304.4H369.0 M366.4 300.6H369.0 M364.0 296.9H369.0 M366.4 293.2H369.0 M366.4 289.4H369.0 M366.4 285.7H369.0 M366.4 281.9H369.0 M364.0 278.2H369.0 M366.4 274.5H369.0 M366.4 270.7H369.0 M366.4 267.0H369.0 M366.4 263.2H369.0 M364.0 259.5H369.0 M378.0 353.0V356.0 M382.9 353.0V356.0 M386.4 353.0V356.0 M389.1 353.0V356.0 M391.3 353.0V356.0 M393.2 353.0V356.0 M394.8 353.0V356.0 M396.2 353.0V356.0 M405.9 353.0V356.0 M410.8 353.0V356.0 M414.3 353.0V356.0 M417.0 353.0V356.0 M419.2 353.0V356.0 M421.1 353.0V356.0 M422.7 353.0V356.0 M424.1 353.0V356.0 M433.8 353.0V356.0 M438.7 353.0V356.0 M442.2 353.0V356.0 M444.9 353.0V356.0 M447.1 353.0V356.0 M449.0 353.0V356.0 M450.6 353.0V356.0 M452.0 353.0V356.0 M461.7 353.0V356.0 M466.6 353.0V356.0 M470.1 353.0V356.0 M472.8 353.0V356.0 M475.0 353.0V356.0 M476.9 353.0V356.0 M478.5 353.0V356.0 M479.9 353.0V356.0 M369.6 353.0V357.5 M397.5 353.0V357.5 M425.4 353.0V357.5 M453.3 353.0V357.5 M481.2 353.0V357.5" stroke="#000" stroke-width="1.4" fill="none"/>
<text transform="translate(371.6 369.3) scale(0.86 1)" font-size="10.5" text-anchor="end">10</text>
<text transform="translate(372.1 363.9) scale(0.9 1)" font-size="10.3">0</text>
<text transform="translate(399.5 369.3) scale(0.86 1)" font-size="10.5" text-anchor="end">10</text>
<text transform="translate(400.0 363.9) scale(0.9 1)" font-size="10.3">1</text>
<text transform="translate(427.4 369.3) scale(0.86 1)" font-size="10.5" text-anchor="end">10</text>
<text transform="translate(427.9 363.9) scale(0.9 1)" font-size="10.3">2</text>
<text transform="translate(455.3 369.3) scale(0.86 1)" font-size="10.5" text-anchor="end">10</text>
<text transform="translate(455.8 363.9) scale(0.9 1)" font-size="10.3">3</text>
<text transform="translate(483.2 369.3) scale(0.86 1)" font-size="10.5" text-anchor="end">10</text>
<text transform="translate(483.7 363.9) scale(0.9 1)" font-size="10.3">4</text>
<clipPath id="c30"><rect x="85.4" y="381.1" width="112.0" height="93.8"/></clipPath>
<g clip-path="url(#c30)" fill="none" stroke="#000" stroke-linejoin="round" stroke-width="1.8">
<path d="M87.2 440.0 C87.2 436.9 87.1 428.3 87.2 421.4 C87.3 414.5 87.4 403.4 87.8 398.4 C88.2 393.4 88.8 393.3 89.5 391.4 C90.2 389.5 91.5 386.4 92.2 387.0 C93.0 387.6 93.6 391.2 94.0 394.9 C94.4 398.6 94.4 404.4 94.8 409.1 C95.2 413.8 95.8 418.5 96.3 423.2 C96.8 427.9 97.4 433.2 98.0 437.3 C98.6 441.4 99.3 444.8 100.1 448.0 C100.9 451.2 101.8 454.2 102.8 456.8 C103.8 459.4 105.0 462.0 106.3 463.9 C107.6 465.8 109.0 467.0 110.8 468.3 C112.6 469.6 114.9 471.0 116.9 471.8 C119.0 472.6 120.9 472.9 123.1 473.2 C125.3 473.4 128.8 473.3 130.0 473.3" stroke-dasharray="2.5 1.9"/>
<path d="M86.5 473.3 C86.7 473.2 87.3 473.7 87.8 472.7 C88.3 471.7 89.0 470.0 89.5 467.4 C90.0 464.8 90.5 461.2 91.0 456.8 C91.5 452.4 91.9 446.5 92.2 440.9 C92.5 435.3 92.8 429.1 93.1 423.2 C93.4 417.3 93.7 410.8 94.0 405.5 C94.3 400.2 94.5 395.4 94.8 391.4 C95.1 387.4 95.1 383.1 95.7 381.5 C96.3 379.9 97.8 379.8 98.4 381.5 C99.0 383.2 99.0 388.5 99.4 392.0 C99.8 395.5 100.2 397.9 100.7 402.5 C101.2 407.1 101.9 414.9 102.5 419.8 C103.1 424.7 103.6 428.5 104.2 432.0 C104.8 435.5 105.3 437.7 105.9 440.6 C106.5 443.5 107.0 446.4 107.6 449.3 C108.2 452.2 108.8 455.4 109.4 457.9 C110.0 460.3 110.1 462.4 111.1 464.0 C112.1 465.6 113.4 466.5 115.4 467.4 C117.4 468.3 120.9 468.8 123.1 469.2 C125.3 469.6 126.6 470.1 128.4 470.1 C130.2 470.1 132.2 469.5 133.7 469.2 C135.2 468.9 136.1 468.1 137.3 468.5 C138.5 468.9 139.3 471.1 140.8 471.8 C142.3 472.6 141.2 472.8 146.1 473.0 C151.0 473.2 161.2 473.2 170.0 473.3 C178.8 473.4 194.0 473.3 198.8 473.3"/>
</g>
<path d="M85.4 473.9V381.1H197.4V473.9" fill="none" stroke="#000" stroke-width="1.9"/>
<path d="M84.4 473.9H198.4" stroke="#000" stroke-width="2.5"/>
<path d="M80.4 473.9H85.4 M82.8 470.2H85.4 M82.8 466.5H85.4 M82.8 462.8H85.4 M82.8 459.1H85.4 M80.4 455.3H85.4 M82.8 451.6H85.4 M82.8 447.9H85.4 M82.8 444.2H85.4 M82.8 440.5H85.4 M80.4 436.8H85.4 M82.8 433.1H85.4 M82.8 429.4H85.4 M82.8 425.6H85.4 M82.8 421.9H85.4 M80.4 418.2H85.4 M82.8 414.5H85.4 M82.8 410.8H85.4 M82.8 407.1H85.4 M82.8 403.4H85.4 M80.4 399.7H85.4 M82.8 395.9H85.4 M82.8 392.2H85.4 M82.8 388.5H85.4 M82.8 384.8H85.4 M80.4 381.1H85.4 M94.3 473.9V476.9 M99.2 473.9V476.9 M102.6 473.9V476.9 M105.3 473.9V476.9 M107.5 473.9V476.9 M109.3 473.9V476.9 M110.9 473.9V476.9 M112.3 473.9V476.9 M121.9 473.9V476.9 M126.8 473.9V476.9 M130.2 473.9V476.9 M132.9 473.9V476.9 M135.1 473.9V476.9 M136.9 473.9V476.9 M138.5 473.9V476.9 M139.9 473.9V476.9 M149.5 473.9V476.9 M154.4 473.9V476.9 M157.8 473.9V476.9 M160.5 473.9V476.9 M162.7 473.9V476.9 M164.5 473.9V476.9 M166.1 473.9V476.9 M167.5 473.9V476.9 M177.1 473.9V476.9 M182.0 473.9V476.9 M185.4 473.9V476.9 M188.1 473.9V476.9 M190.3 473.9V476.9 M192.1 473.9V476.9 M193.7 473.9V476.9 M195.1 473.9V476.9 M86.0 473.9V478.4 M113.6 473.9V478.4 M141.2 473.9V478.4 M168.8 473.9V478.4 M196.4 473.9V478.4" stroke="#000" stroke-width="1.4" fill="none"/>
<text transform="translate(88.0 490.2) scale(0.86 1)" font-size="10.5" text-anchor="end">10</text>
<text transform="translate(88.5 484.8) scale(0.9 1)" font-size="10.3">0</text>
<text transform="translate(115.6 490.2) scale(0.86 1)" font-size="10.5" text-anchor="end">10</text>
<text transform="translate(116.1 484.8) scale(0.9 1)" font-size="10.3">1</text>
<text transform="translate(143.2 490.2) scale(0.86 1)" font-size="10.5" text-anchor="end">10</text>
<text transform="translate(143.7 484.8) scale(0.9 1)" font-size="10.3">2</text>
<text transform="translate(170.8 490.2) scale(0.86 1)" font-size="10.5" text-anchor="end">10</text>
<text transform="translate(171.3 484.8) scale(0.9 1)" font-size="10.3">3</text>
<text transform="translate(198.4 490.2) scale(0.86 1)" font-size="10.5" text-anchor="end">10</text>
<text transform="translate(198.9 484.8) scale(0.9 1)" font-size="10.3">4</text>
<text transform="translate(77.4 473.4) rotate(-90) scale(0.87 1)" font-size="10" text-anchor="middle">0</text>
<text transform="translate(77.4 454.8) rotate(-90) scale(0.87 1)" font-size="10" text-anchor="middle">40</text>
<text transform="translate(77.4 436.3) rotate(-90) scale(0.87 1)" font-size="10" text-anchor="middle">80</text>
<text transform="translate(77.4 417.7) rotate(-90) scale(0.87 1)" font-size="10" text-anchor="middle">120</text>
<text transform="translate(77.4 399.2) rotate(-90) scale(0.87 1)" font-size="10" text-anchor="middle">160</text>
<text transform="translate(77.4 380.6) rotate(-90) scale(0.87 1)" font-size="10" text-anchor="middle">200</text>
<clipPath id="c31"><rect x="227.5" y="381.2" width="113.6" height="94.3"/></clipPath>
<g clip-path="url(#c31)" fill="none" stroke="#000" stroke-linejoin="round" stroke-width="1.8">
<path d="M227.5 460.0 C227.5 457.1 227.2 447.9 227.5 442.7 C227.8 437.5 228.7 432.4 229.3 428.6 C229.9 424.8 230.4 421.9 231.1 419.7 C231.8 417.5 232.9 415.3 233.7 415.3 C234.5 415.3 235.2 416.9 236.0 419.7 C236.8 422.5 237.4 427.7 238.2 432.1 C239.0 436.5 239.8 443.1 240.8 446.3 C241.8 449.6 243.2 450.1 244.4 451.6 C245.6 453.1 246.9 453.6 247.9 455.1 C248.9 456.6 249.5 458.5 250.5 460.4 C251.5 462.3 252.6 465.0 254.1 466.6 C255.6 468.2 257.6 469.3 259.4 470.2 C261.2 471.1 262.6 471.4 264.7 471.9 C266.8 472.4 269.2 473.0 271.8 473.2 C274.4 473.4 278.6 473.3 280.0 473.3" stroke-dasharray="2.5 1.9"/>
<path d="M227.0 472.8 C229.4 472.6 237.8 472.2 241.7 471.9 C245.6 471.6 247.8 471.4 250.5 471.0 C253.2 470.6 255.5 469.9 257.6 469.3 C259.7 468.7 261.4 468.4 262.9 467.5 C264.4 466.6 265.5 465.8 266.5 464.0 C267.5 462.2 268.3 459.6 269.1 456.9 C269.9 454.2 270.7 451.2 271.4 448.0 C272.1 444.8 272.6 440.9 273.2 437.4 C273.8 433.9 274.4 429.8 275.0 426.8 C275.6 423.9 276.1 421.2 276.7 419.7 C277.3 418.2 278.1 417.9 278.9 417.9 C279.7 417.8 280.6 418.8 281.5 419.4 C282.4 420.0 283.5 419.7 284.2 421.5 C284.9 423.3 285.2 427.1 285.6 430.3 C286.0 433.5 286.4 437.3 286.8 440.9 C287.2 444.4 287.6 448.1 288.1 451.6 C288.6 455.2 289.0 459.2 289.8 462.2 C290.6 465.1 291.6 467.5 293.0 469.3 C294.4 471.1 293.8 472.2 298.3 472.8 C302.8 473.4 312.9 473.1 320.0 473.2 C327.1 473.3 337.5 473.2 341.0 473.2"/>
</g>
<path d="M227.5 474.5V381.2H341.1V474.5" fill="none" stroke="#000" stroke-width="1.9"/>
<path d="M226.5 474.5H342.1" stroke="#000" stroke-width="2.5"/>
<path d="M222.5 474.5H227.5 M224.9 470.8H227.5 M224.9 467.0H227.5 M224.9 463.3H227.5 M224.9 459.6H227.5 M222.5 455.8H227.5 M224.9 452.1H227.5 M224.9 448.4H227.5 M224.9 444.6H227.5 M224.9 440.9H227.5 M222.5 437.2H227.5 M224.9 433.4H227.5 M224.9 429.7H227.5 M224.9 426.0H227.5 M224.9 422.3H227.5 M222.5 418.5H227.5 M224.9 414.8H227.5 M224.9 411.1H227.5 M224.9 407.3H227.5 M224.9 403.6H227.5 M222.5 399.9H227.5 M224.9 396.1H227.5 M224.9 392.4H227.5 M224.9 388.7H227.5 M224.9 384.9H227.5 M222.5 381.2H227.5 M236.5 474.5V477.5 M241.5 474.5V477.5 M245.0 474.5V477.5 M247.7 474.5V477.5 M249.9 474.5V477.5 M251.8 474.5V477.5 M253.4 474.5V477.5 M254.8 474.5V477.5 M264.5 474.5V477.5 M269.5 474.5V477.5 M273.0 474.5V477.5 M275.7 474.5V477.5 M277.9 474.5V477.5 M279.8 474.5V477.5 M281.4 474.5V477.5 M282.8 474.5V477.5 M292.5 474.5V477.5 M297.5 474.5V477.5 M301.0 474.5V477.5 M303.7 474.5V477.5 M305.9 474.5V477.5 M307.8 474.5V477.5 M309.4 474.5V477.5 M310.8 474.5V477.5 M320.5 474.5V477.5 M325.5 474.5V477.5 M329.0 474.5V477.5 M331.7 474.5V477.5 M333.9 474.5V477.5 M335.8 474.5V477.5 M337.4 474.5V477.5 M338.8 474.5V477.5 M228.1 474.5V479.0 M256.1 474.5V479.0 M284.1 474.5V479.0 M312.1 474.5V479.0 M340.1 474.5V479.0" stroke="#000" stroke-width="1.4" fill="none"/>
<text transform="translate(230.1 490.8) scale(0.86 1)" font-size="10.5" text-anchor="end">10</text>
<text transform="translate(230.6 485.4) scale(0.9 1)" font-size="10.3">0</text>
<text transform="translate(258.1 490.8) scale(0.86 1)" font-size="10.5" text-anchor="end">10</text>
<text transform="translate(258.6 485.4) scale(0.9 1)" font-size="10.3">1</text>
<text transform="translate(286.1 490.8) scale(0.86 1)" font-size="10.5" text-anchor="end">10</text>
<text transform="translate(286.6 485.4) scale(0.9 1)" font-size="10.3">2</text>
<text transform="translate(314.1 490.8) scale(0.86 1)" font-size="10.5" text-anchor="end">10</text>
<text transform="translate(314.6 485.4) scale(0.9 1)" font-size="10.3">3</text>
<text transform="translate(342.1 490.8) scale(0.86 1)" font-size="10.5" text-anchor="end">10</text>
<text transform="translate(342.6 485.4) scale(0.9 1)" font-size="10.3">4</text>
<clipPath id="c32"><rect x="369.5" y="381.4" width="112.6" height="94.5"/></clipPath>
<g clip-path="url(#c32)" fill="none" stroke="#000" stroke-linejoin="round" stroke-width="1.8">
<path d="M369.5 460.0 C369.5 456.8 369.2 445.8 369.5 440.9 C369.8 435.9 370.8 433.6 371.3 430.3 C371.8 427.1 372.2 423.8 372.7 421.4 C373.2 419.0 373.6 417.0 374.5 416.1 C375.4 415.2 377.5 414.6 378.4 416.1 C379.3 417.6 379.4 421.8 379.8 425.0 C380.2 428.2 380.5 432.4 381.0 435.6 C381.5 438.8 382.1 442.0 382.8 444.4 C383.5 446.8 384.4 447.9 385.4 449.7 C386.4 451.5 388.0 453.2 389.0 455.0 C390.0 456.8 390.6 458.5 391.6 460.3 C392.6 462.1 393.9 464.0 395.2 465.6 C396.5 467.2 398.0 469.1 399.6 470.1 C401.2 471.1 403.1 471.3 404.9 471.8 C406.7 472.3 407.7 473.1 410.2 473.3 C412.7 473.6 418.4 473.3 420.0 473.3" stroke-dasharray="2.5 1.9"/>
<path d="M369.0 473.3 C369.7 473.3 371.8 473.6 373.1 473.3 C374.4 473.1 375.6 472.8 376.6 471.8 C377.6 470.8 378.6 469.3 379.3 467.4 C380.0 465.5 380.5 462.9 381.0 460.3 C381.5 457.7 381.9 454.7 382.3 451.5 C382.8 448.3 383.2 444.4 383.7 440.9 C384.2 437.4 384.6 434.1 385.1 430.3 C385.6 426.5 386.3 421.4 386.9 417.9 C387.5 414.4 388.0 411.6 388.6 409.1 C389.2 406.6 389.8 403.3 390.4 402.9 C391.0 402.4 391.6 406.5 392.2 406.4 C392.8 406.2 393.3 401.7 393.9 402.0 C394.5 402.3 395.2 405.8 395.7 408.2 C396.2 410.6 396.5 414.1 396.9 416.1 C397.3 418.2 397.8 418.4 398.2 420.5 C398.6 422.6 399.1 425.4 399.6 428.5 C400.1 431.6 400.5 435.6 401.0 439.1 C401.5 442.6 402.2 446.2 402.8 449.7 C403.4 453.2 404.1 457.4 404.9 460.3 C405.7 463.2 406.5 465.8 407.5 467.4 C408.5 469.0 410.1 469.4 411.1 470.1 C412.1 470.8 412.7 471.3 413.7 471.8 C414.7 472.3 411.2 473.1 417.3 473.3 C423.4 473.6 439.3 473.3 450.0 473.3 C460.7 473.3 476.4 473.3 481.7 473.3"/>
</g>
<path d="M369.5 474.9V381.4H482.1V474.9" fill="none" stroke="#000" stroke-width="1.9"/>
<path d="M368.5 474.9H483.1" stroke="#000" stroke-width="2.5"/>
<path d="M364.5 474.9H369.5 M366.9 471.2H369.5 M366.9 467.4H369.5 M366.9 463.7H369.5 M366.9 459.9H369.5 M364.5 456.2H369.5 M366.9 452.5H369.5 M366.9 448.7H369.5 M366.9 445.0H369.5 M366.9 441.2H369.5 M364.5 437.5H369.5 M366.9 433.8H369.5 M366.9 430.0H369.5 M366.9 426.3H369.5 M366.9 422.5H369.5 M364.5 418.8H369.5 M366.9 415.1H369.5 M366.9 411.3H369.5 M366.9 407.6H369.5 M366.9 403.8H369.5 M364.5 400.1H369.5 M366.9 396.4H369.5 M366.9 392.6H369.5 M366.9 388.9H369.5 M366.9 385.1H369.5 M364.5 381.4H369.5 M378.5 474.9V477.9 M383.3 474.9V477.9 M386.8 474.9V477.9 M389.5 474.9V477.9 M391.7 474.9V477.9 M393.6 474.9V477.9 M395.2 474.9V477.9 M396.6 474.9V477.9 M406.2 474.9V477.9 M411.1 474.9V477.9 M414.6 474.9V477.9 M417.2 474.9V477.9 M419.4 474.9V477.9 M421.3 474.9V477.9 M422.9 474.9V477.9 M424.3 474.9V477.9 M434.0 474.9V477.9 M438.8 474.9V477.9 M442.3 474.9V477.9 M445.0 474.9V477.9 M447.2 474.9V477.9 M449.1 474.9V477.9 M450.7 474.9V477.9 M452.1 474.9V477.9 M461.7 474.9V477.9 M466.6 474.9V477.9 M470.1 474.9V477.9 M472.7 474.9V477.9 M474.9 474.9V477.9 M476.8 474.9V477.9 M478.4 474.9V477.9 M479.8 474.9V477.9 M370.1 474.9V479.4 M397.9 474.9V479.4 M425.6 474.9V479.4 M453.4 474.9V479.4 M481.1 474.9V479.4" stroke="#000" stroke-width="1.4" fill="none"/>
<text transform="translate(372.1 491.2) scale(0.86 1)" font-size="10.5" text-anchor="end">10</text>
<text transform="translate(372.6 485.8) scale(0.9 1)" font-size="10.3">0</text>
<text transform="translate(399.9 491.2) scale(0.86 1)" font-size="10.5" text-anchor="end">10</text>
<text transform="translate(400.4 485.8) scale(0.9 1)" font-size="10.3">1</text>
<text transform="translate(427.6 491.2) scale(0.86 1)" font-size="10.5" text-anchor="end">10</text>
<text transform="translate(428.1 485.8) scale(0.9 1)" font-size="10.3">2</text>
<text transform="translate(455.4 491.2) scale(0.86 1)" font-size="10.5" text-anchor="end">10</text>
<text transform="translate(455.9 485.8) scale(0.9 1)" font-size="10.3">3</text>
<text transform="translate(483.1 491.2) scale(0.86 1)" font-size="10.5" text-anchor="end">10</text>
<text transform="translate(483.6 485.8) scale(0.9 1)" font-size="10.3">4</text>
<text transform="translate(53.4 56.9) rotate(-90) scale(0.95 1)" font-size="22.5" text-anchor="middle" stroke="#000" stroke-width="0.9">F8</text>
<text transform="translate(52.4 183.2) rotate(-90) scale(0.95 1)" font-size="22.5" text-anchor="middle" stroke="#000" stroke-width="0.9">SC</text>
<text transform="translate(51.6 303.0) rotate(-90) scale(0.97 1)" font-size="21.0" text-anchor="middle" stroke="#000" stroke-width="0.9">f197</text>
<text transform="translate(51.3 423.0) rotate(-90) scale(0.95 1)" font-size="21.5" text-anchor="middle" stroke="#000" stroke-width="0.9">m388</text>
<text transform="translate(19.8 242.2) rotate(-90)" font-size="21" text-anchor="middle" stroke="#000" stroke-width="0.6">Cell Line</text>
<rect x="21.2" y="199.3" width="2" height="88.8" fill="#000"/>
<text transform="translate(504 244) rotate(90)" font-size="16.4" text-anchor="middle" stroke="#000" stroke-width="0.4">Relative Cell Number</text>
<text x="82.0" y="517.9" font-size="15" stroke="#000" stroke-width="0.4">VLA-4</text>
<path d="M127.0 514.0H186.6" stroke="#000" stroke-width="1.6"/>
<path d="M198.6 514.0L183.6 510.5L183.6 517.5Z" fill="#000"/>
<text x="228.0" y="519.1" font-size="15" stroke="#000" stroke-width="0.4">LFA-1</text>
<path d="M270.0 514.9H334.1" stroke="#000" stroke-width="1.6"/>
<path d="M346.1 514.9L331.1 511.4L331.1 518.4Z" fill="#000"/>
<text x="370.0" y="519.7" font-size="15" stroke="#000" stroke-width="0.4">ICAM-1</text>
<path d="M421.0 515.6H474.9" stroke="#000" stroke-width="1.6"/>
<path d="M486.9 515.6L471.9 512.1L471.9 519.1Z" fill="#000"/>
<text x="141.5" y="546.9" font-size="16" stroke="#000" stroke-width="0.4">Relative Log Fluorescence Intensity</text>
</svg></body></html>
